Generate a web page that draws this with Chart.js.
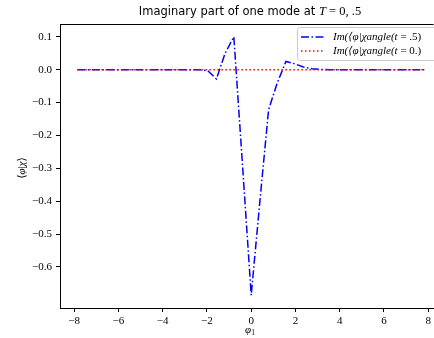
<!DOCTYPE html>
<html>
<head>
<meta charset="utf-8">
<script src="https://cdn.jsdelivr.net/npm/chart.js@4"></script>
<style>
  html, body { margin: 0; padding: 0; background: #fff; overflow: hidden; }
  canvas { display: block; }
</style>
</head>
<body>
<canvas id="modeChart" width="434" height="338"></canvas>
<script>
// phi_1 sample points (pi/8 grid from -2.5pi to 2.5pi)
const phiValues = [
  -7.854, -7.461, -7.069, -6.676, -6.283, -5.890, -5.498, -5.105, -4.712, -4.320,
  -3.927, -3.534, -3.142, -2.749, -2.356, -1.963, -1.571, -1.178, -0.785, -0.393,
  0.0,
  0.393, 0.785, 1.178, 1.571, 1.963, 2.356, 2.749, 3.142, 3.534, 3.927,
  4.320, 4.712, 5.105, 5.498, 5.890, 6.283, 6.676, 7.069, 7.461, 7.854
];
// Im(<phi|chi>) at t = .5
const imT05 = [
  0, 0, 0, 0, 0, 0, 0, 0, 0, 0,
  0, 0, 0, 0, 0, -0.003, -0.028, 0.05, 0.1, -0.29,
  -0.686,
  -0.40, -0.122, -0.04, 0.025, 0.018, 0.008, 0.003, 0.001, 0, 0,
  0, 0, 0, 0, 0, 0, 0, 0, 0, 0
];
// Im(<phi|chi>) at t = 0.
const imT0 = [
  0, 0, 0, 0, 0, 0, 0, 0, 0, 0,
  0, 0, 0, 0, 0, 0, 0, 0, 0, 0,
  0,
  0, 0, 0, 0, 0, 0, 0, 0, 0, 0,
  0, 0, 0, 0, 0, 0, 0, 0, 0, 0
];
const xTicks = [-8, -6, -4, -2, 0, 2, 4, 6, 8];
const yTicks = [0.1, 0.0, -0.1, -0.2, -0.3, -0.4, -0.5, -0.6];

const serif = "'Liberation Serif', 'DejaVu Serif', serif";
const sans = "'DejaVu Sans', sans-serif";
const dashDot = [8, 2.5, 1.5, 2.5];
const dotted = [1.5, 2.5];

function fmtY(v) {
  const s = Math.abs(v).toFixed(1);
  return v < -1e-9 ? "\u2212" + s : s;
}
function fmtX(v) {
  return v < 0 ? "\u2212" + Math.abs(v) : String(v);
}

// draws a run of [text, font, dy] pieces starting at x
function drawPieces(ctx, pieces, x, y, align) {
  let total = 0;
  pieces.forEach(p => { ctx.font = p[1]; total += ctx.measureText(p[0]).width; });
  let cx = align === "center" ? x - total / 2 : x;
  ctx.textAlign = "left";
  pieces.forEach(p => {
    ctx.font = p[1];
    ctx.fillText(p[0], cx, y + (p[2] || 0));
    cx += ctx.measureText(p[0]).width;
  });
}

const decorations = {
  id: "decorations",
  afterDraw(chart) {
    const ctx = chart.ctx;
    const a = chart.chartArea;
    ctx.save();
    // top frame line
    ctx.strokeStyle = "#000";
    ctx.lineWidth = 1;
    ctx.beginPath();
    ctx.moveTo(a.left, a.top + 0.5);
    ctx.lineTo(a.right, a.top + 0.5);
    ctx.stroke();

    ctx.fillStyle = "#000";
    ctx.textBaseline = "middle";
    // title
    drawPieces(ctx, [
      ["Imaginary part of one mode at ", "11.5px " + sans],
      ["T", "italic 12.5px " + serif],
      [" = 0, .5", "12.5px " + serif]
    ], 250, 12, "center");

    // x label
    drawPieces(ctx, [["\u03c6", "italic 11px " + serif], ["1", "7.5px " + serif, 3]], 250, 330, "center");

    // y label
    ctx.save();
    ctx.translate(22, 168);
    ctx.rotate(-Math.PI / 2);
    drawPieces(ctx, [
      ["\u27e8", "11px " + serif], ["\u03c6", "italic 11px " + serif],
      ["|", "11px " + serif], ["\u03c7", "italic 11px " + serif], ["\u27e9", "11px " + serif]
    ], 0, 0, "center");
    ctx.restore();

    // legend box
    const lx = 297, ly = 27, lw = 150, lh = 33;
    ctx.fillStyle = "rgba(255,255,255,0.85)";
    ctx.strokeStyle = "#cccccc";
    ctx.beginPath();
    ctx.roundRect(lx + 0.5, ly + 0.5, lw, lh, 3);
    ctx.fill();
    ctx.stroke();

    const entries = [
      { color: "#0000ff", dash: dashDot, label: ".5)" },
      { color: "#ff0000", dash: dotted, label: "0.)" }
    ];
    entries.forEach((e, i) => {
      const yy = ly + 10 + i * 14;
      ctx.strokeStyle = e.color;
      ctx.lineWidth = 1.5;
      ctx.setLineDash(e.dash);
      ctx.beginPath();
      ctx.moveTo(lx + 4, yy);
      ctx.lineTo(lx + 28, yy);
      ctx.stroke();
      ctx.setLineDash([]);
      ctx.fillStyle = "#000";
      drawPieces(ctx, [
        ["Im(\u27e8\u03c6|\u03c7angle(t", "italic 11px " + serif],
        [" = " + e.label, "11px " + serif]
      ], lx + 36, yy, "left");
    });
    ctx.restore();
  }
};

const ctx = document.getElementById("modeChart").getContext("2d");
const modeChart = new Chart(ctx, {
  type: "line",
  data: {
    datasets: [
      {
        label: "Im(<phi|chi>(t=.5))",
        data: phiValues.map((x, i) => ({ x: x, y: imT05[i] })),
        borderColor: "#0000ff",
        borderWidth: 1.5,
        borderDash: dashDot,
        pointRadius: 0,
        fill: false,
        tension: 0,
        order: 2
      },
      {
        label: "Im(<phi|chi>(t=0.))",
        data: phiValues.map((x, i) => ({ x: x, y: imT0[i] })),
        borderColor: "#ff0000",
        borderWidth: 1.5,
        borderDash: dotted,
        pointRadius: 0,
        fill: false,
        tension: 0,
        order: 1
      }
    ]
  },
  options: {
    responsive: false,
    animation: false,
    layout: { padding: { top: 24, right: 0, left: 0, bottom: 0 } },
    plugins: { legend: { display: false }, title: { display: false }, tooltip: { enabled: false } },
    scales: {
      x: {
        type: "linear",
        min: -8.64,
        max: 8.24,
        afterBuildTicks: s => { s.ticks = xTicks.map(v => ({ value: v })); },
        afterFit: s => { s.height = 30; },
        grid: { drawOnChartArea: false, drawTicks: true, tickLength: 4, color: "#000" },
        border: { display: true, color: "#000", width: 1 },
        ticks: {
          color: "#000",
          font: { family: serif, size: 11 },
          padding: 3,
          maxRotation: 0,
          callback: v => fmtX(v)
        }
      },
      y: {
        min: -0.725,
        max: 0.139,
        afterBuildTicks: s => { s.ticks = yTicks.map(v => ({ value: v })); },
        afterFit: s => { s.width = 60; },
        grid: { drawOnChartArea: false, drawTicks: true, tickLength: 4, color: "#000" },
        border: { display: true, color: "#000", width: 1 },
        ticks: {
          color: "#000",
          font: { family: serif, size: 11 },
          padding: 4,
          callback: v => fmtY(v)
        }
      }
    }
  },
  plugins: [decorations]
});
</script>
</body>
</html>
